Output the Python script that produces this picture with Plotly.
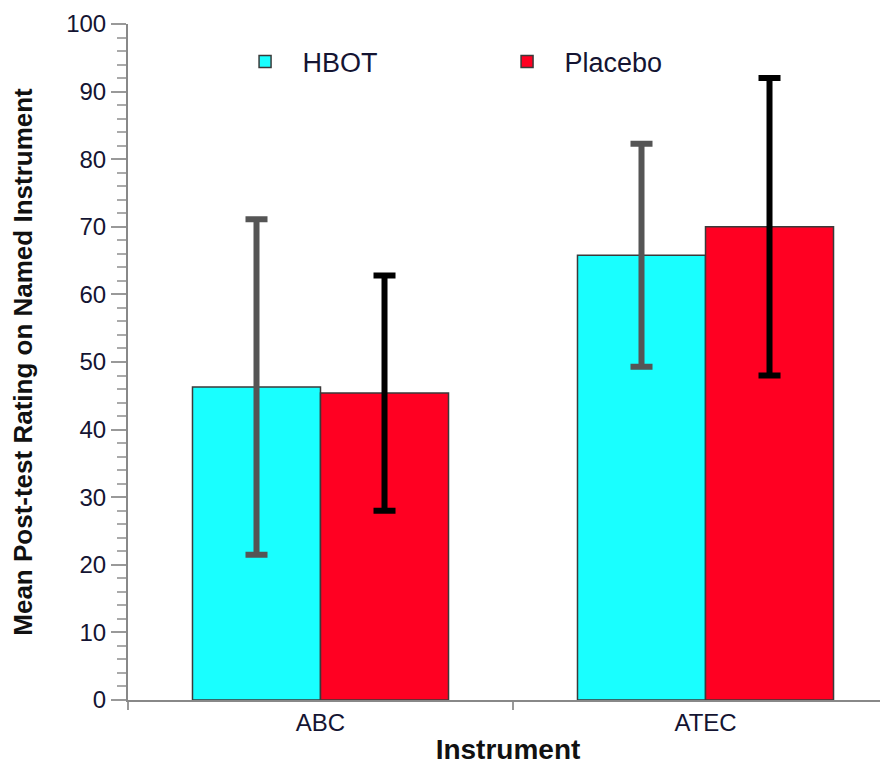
import plotly.graph_objects as go

categories = ["ABC", "ATEC"]
hbot_means = [46.3, 65.8]
hbot_err = [24.8, 16.5]
placebo_means = [45.4, 70.0]
placebo_err = [17.4, 22.0]
y_ticks = list(range(0, 101, 10))

text_color = "#141432"
font_family = "Liberation Sans, Arial, sans-serif"

fig = go.Figure()
fig.add_trace(go.Bar(
    name="HBOT", x=categories, y=hbot_means,
    marker=dict(color="#19ffff", line=dict(color="#3a3a3a", width=1.5)),
    error_y=dict(type="data", array=hbot_err, visible=True,
                 color="#555555", thickness=6, width=11),
))
fig.add_trace(go.Bar(
    name="Placebo", x=categories, y=placebo_means,
    marker=dict(color="#ff0022", line=dict(color="#3a3a3a", width=1.5)),
    error_y=dict(type="data", array=placebo_err, visible=True,
                 color="#000000", thickness=6, width=11),
))

# page body has an 8px margin, so the figure is sized to fit the window
fig.update_layout(
    width=880, height=757,
    margin=dict(l=120, r=0, t=16, b=65, autoexpand=False),
    paper_bgcolor="white", plot_bgcolor="white",
    barmode="group", bargap=0.335, bargroupgap=0,
    font=dict(family=font_family, color=text_color, size=22),
    showlegend=True,
    legend=dict(orientation="h", x=0.131, y=0.98, xanchor="left", yanchor="top",
                font=dict(size=27, color=text_color), bgcolor="rgba(0,0,0,0)",
                itemwidth=65, entrywidth=182, entrywidthmode="pixels"),
)
fig.update_xaxes(
    range=[-0.5, 1.474], showline=True, linecolor="#888888", linewidth=2,
    ticks="outside", tickson="boundaries", ticklen=8, tickcolor="#999999", tickwidth=2,
    tickfont=dict(size=24, color=text_color), automargin=False,
    title=dict(text="<b>Instrument</b>", font=dict(size=28, color="#111111"), standoff=8),
    showgrid=False, zeroline=False,
)
fig.update_yaxes(
    range=[0, 100], tickvals=y_ticks, showline=True, linecolor="#888888", linewidth=2,
    ticks="outside", ticklen=15, tickcolor="#999999", tickwidth=2,
    minor=dict(dtick=2, ticks="outside", ticklen=9, tickcolor="#aaaaaa", tickwidth=1.5),
    tickfont=dict(size=24, color=text_color), automargin=False,
    title=dict(text="<b>Mean Post-test Rating on Named Instrument</b>",
               font=dict(size=26, color="#111111"), standoff=28),
    showgrid=False, zeroline=False,
)

fig.write_html("out.html")
